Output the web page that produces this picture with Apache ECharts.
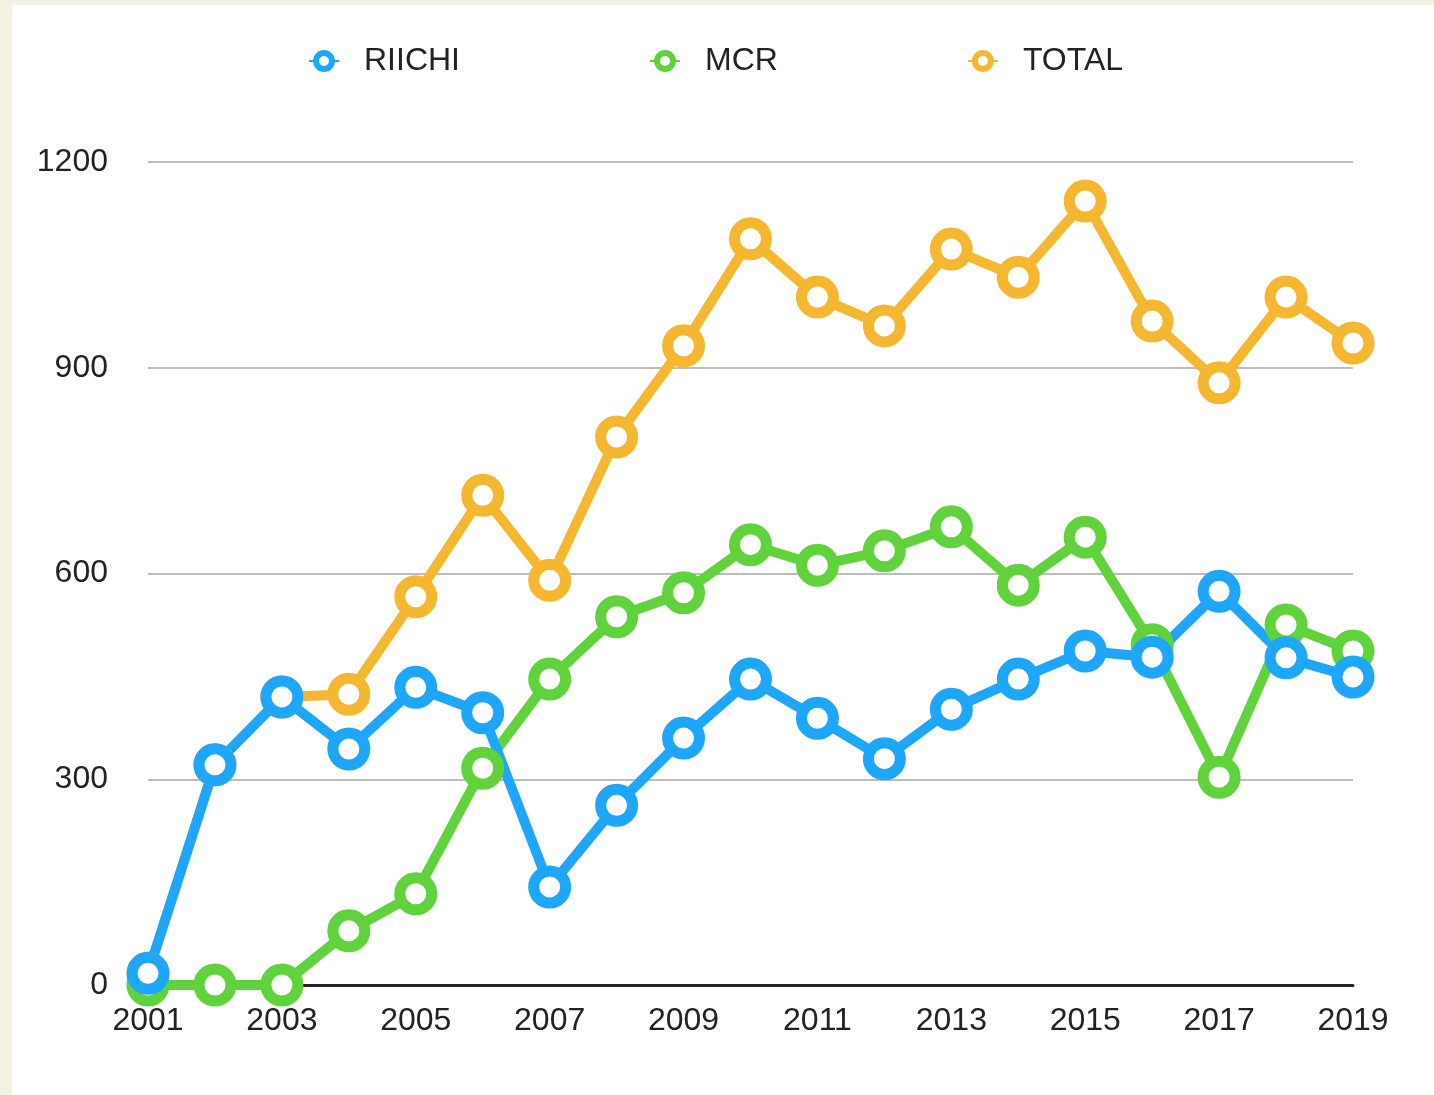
<!DOCTYPE html>
<html>
<head>
<meta charset="utf-8">
<script src="https://cdn.jsdelivr.net/npm/echarts@6/dist/echarts.min.js"></script>
<style>
  html, body { margin: 0; padding: 0; background: #f3f1e2; }
  #main { position: absolute; left: 12px; top: 5px; width: 1422px; height: 1090px; background: #ffffff; }
</style>
</head>
<body>
<div id="main"></div>
<script>
var years = ['2001', '2002', '2003', '2004', '2005', '2006', '2007', '2008', '2009', '2010',
  '2011', '2012', '2013', '2014', '2015', '2016', '2017', '2018', '2019'];
var riichi = [17, 321, 420, 344, 434, 397, 143, 262, 360, 446, 389, 330, 402, 446, 487, 478, 574, 477, 449];
var mcr = [0, 0, 0, 79, 133, 316, 446, 537, 572, 642, 612, 633, 668, 583, 653, 496, 303, 525, 487];
var total = [17, 321, 420, 424, 566, 714, 590, 799, 932, 1088, 1003, 961, 1073, 1032, 1143, 968, 878, 1003, 936];

var chart = echarts.init(document.getElementById('main'));

function makeSeries(name, data, color) {
  return {
    name: name,
    type: 'line',
    data: data,
    symbol: 'circle',
    symbolSize: 32,
    color: color,
    lineStyle: { color: color, width: 10 },
    itemStyle: { color: '#ffffff', borderColor: color, borderWidth: 11 },
    emphasis: { disabled: true }
  };
}

var option = {
  animation: false,
  textStyle: { fontFamily: 'Liberation Sans, Arial, sans-serif' },
  legend: {
    data: ['RIICHI', 'MCR', 'TOTAL'],
    left: 291,
    top: 35,
    itemGap: 189,
    itemWidth: 30,
    itemHeight: 20,
    itemStyle: { borderWidth: 6 },
    textStyle: { fontSize: 32, color: '#222', padding: [0, 0, 0, 20] }
  },
  grid: { left: 136, right: 81, top: 157, bottom: 110 },
  xAxis: {
    type: 'category',
    data: years,
    boundaryGap: false,
    axisLine: { lineStyle: { color: '#222', width: 3 } },
    axisTick: { show: false },
    axisLabel: { interval: 1, fontSize: 32, color: '#222', margin: 20 }
  },
  yAxis: {
    type: 'value',
    min: 0,
    max: 1200,
    interval: 300,
    axisLine: { show: false },
    axisTick: { show: false },
    axisLabel: { fontSize: 32, color: '#222', margin: 40, formatter: function (v) { return String(v); } },
    splitLine: { lineStyle: { color: '#bdbdbd', width: 2 } }
  },
  series: [
    makeSeries('TOTAL', total, '#f5b730'),
    makeSeries('MCR', mcr, '#5fd23c'),
    makeSeries('RIICHI', riichi, '#1ea6fb')
  ]
};

chart.setOption(option);
</script>
</body>
</html>
